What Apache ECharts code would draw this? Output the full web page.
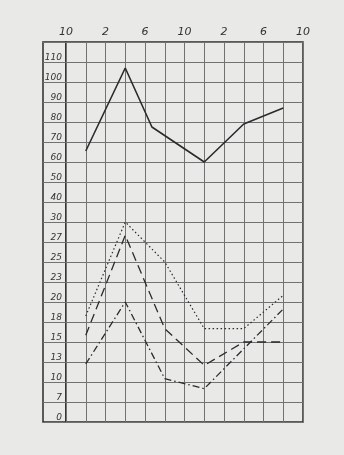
<!DOCTYPE html>
<html><head><meta charset="utf-8">
<script src="https://cdn.jsdelivr.net/npm/echarts@6/dist/echarts.min.js"></script>
<style>html,body{margin:0;padding:0;background:#e9e9e7;}#c{width:344px;height:455px;}</style>
</head><body><div id="c"></div>
<script>
// y tick labels, bottom to top (the scale of the paper is not linear)
const yTickValues = [0,7,10,13,15,18,20,23,25,27,30,40,50,60,70,80,90,100,110,120];
const yTickLabels = ['0','7','10','13','15','18','20','23','25','27','30','40','50','60','70','80','90','100','110',''];
// x axis: clock hours, every 2 hours; labels every 4 hours
const xMin = 10, xMax = 34;
// solid series
const solidHours  = [12, 16, 18.7, 24, 28, 32];
const solidValues = [65.5, 107, 77.5, 60, 79, 87];
// lower series
const lowerHours    = [12, 16, 20, 24, 28, 32];
const dottedValues  = [18.6, 30, 25, 17, 17, 21];
const dashedValues  = [16, 28, 17, 12.5, 15, 15];
const dashDotValues = [12.7, 20, 10.5, 9, null, 19.3];

function toRow(v){
  if (v == null) return null;
  for (let i = 0; i < yTickValues.length - 1; i++) {
    const a = yTickValues[i], b = yTickValues[i+1];
    if (v <= b) return i + (v - a) / (b - a);
  }
  return yTickValues.length - 1;
}
function pairs(xs, vs){ return xs.map((x,i)=>[x, toRow(vs[i])]); }
function clock(h){ const m = h % 12; return String(m === 0 ? 12 : m); }

const ink = '#2b2b2b';
const gridLine = {show:true, lineStyle:{color:'#727272', width:1}};
const font = {fontFamily:'DejaVu Sans', fontStyle:'italic', color:'#333'};

const chart = echarts.init(document.getElementById('c'), null, {renderer:'canvas'});
chart.setOption({
  backgroundColor:'#e9e9e7',
  animation:false,
  grid:[
    {left:43, top:42, width:23, height:380, show:true, borderColor:ink, borderWidth:1.5, backgroundColor:'transparent'},
    {left:66, top:42, width:237, height:380, show:true, borderColor:ink, borderWidth:1.5, backgroundColor:'transparent'}
  ],
  xAxis:[
    {gridIndex:0, type:'value', min:0, max:1, show:false},
    {gridIndex:1, type:'value', min:xMin, max:xMax, interval:2, position:'top',
     axisLine:{show:false}, axisTick:{show:false}, splitLine:gridLine,
     axisLabel:{...font, fontSize:11, margin:4,
       formatter:v => ((v - xMin) % 4 === 0 ? clock(v) : '')}}
  ],
  yAxis:[
    {gridIndex:0, type:'value', min:0, max:19, interval:1,
     axisLine:{show:false}, axisTick:{show:false}, splitLine:gridLine,
     axisLabel:{show:false}},
    {gridIndex:1, type:'value', min:0, max:19, interval:1,
     axisLine:{show:false}, axisTick:{show:false}, splitLine:gridLine,
     axisLabel:{...font, fontSize:9, margin:4, verticalAlign:'bottom',
       formatter:v => yTickLabels[Math.round(v)] || ''}}
  ],
  series:[
    {type:'line', xAxisIndex:1, yAxisIndex:1, data:pairs(solidHours, solidValues),
     showSymbol:false, lineStyle:{color:ink, width:1.6}},
    {type:'line', xAxisIndex:1, yAxisIndex:1, data:pairs(lowerHours, dottedValues),
     showSymbol:false, lineStyle:{color:ink, width:1.2, type:[1.5,2.5]}},
    {type:'line', xAxisIndex:1, yAxisIndex:1, data:pairs(lowerHours, dashedValues),
     showSymbol:false, lineStyle:{color:ink, width:1.3, type:[9,5]}},
    {type:'line', xAxisIndex:1, yAxisIndex:1, data:pairs(lowerHours, dashDotValues),
     connectNulls:true, showSymbol:false, lineStyle:{color:ink, width:1.3, type:[7,3,1.5,3]}}
  ]
});
</script></body></html>
